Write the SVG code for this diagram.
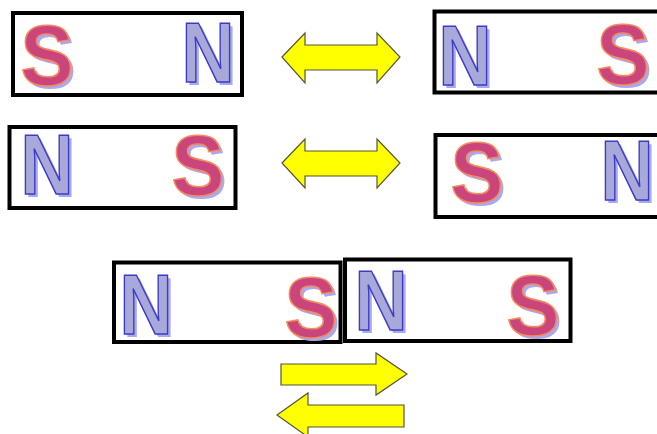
<svg xmlns="http://www.w3.org/2000/svg" width="657" height="434" viewBox="0 0 657 434">
<style>
.box{fill:#ffffff;stroke:#000000;stroke-width:4}
.ltr{font-family:"Liberation Sans",Arial,sans-serif;font-weight:bold;font-size:86px;text-anchor:middle}
.sh{fill:#a9a9ef}
.nm{fill:#a8a8da;stroke:#3b3bc4;stroke-width:1.6}
.sm{fill:#c9457b;stroke:#f58a5e;stroke-width:1.6}
.arr{fill:#ffff00;stroke:#55553a;stroke-width:1.2;stroke-linejoin:miter}
</style>
<rect width="657" height="434" fill="#ffffff"/>
<g id="magnet1">
<rect class="box" x="13" y="13" width="229" height="82"/>
<text class="ltr sh" x="50" y="88" textLength="53" lengthAdjust="spacingAndGlyphs">S</text>
<text class="ltr sm" x="47" y="85" textLength="53" lengthAdjust="spacingAndGlyphs">S</text>
<text class="ltr sh" x="211" y="85" textLength="53" lengthAdjust="spacingAndGlyphs">N</text>
<text class="ltr nm" x="208" y="82" textLength="53" lengthAdjust="spacingAndGlyphs">N</text>
</g>
<g id="magnet2">
<rect class="box" x="434.5" y="11.5" width="230" height="81"/>
<text class="ltr sh" x="468" y="88" textLength="53" lengthAdjust="spacingAndGlyphs">N</text>
<text class="ltr nm" x="465" y="85" textLength="53" lengthAdjust="spacingAndGlyphs">N</text>
<text class="ltr sh" x="626" y="87" textLength="53" lengthAdjust="spacingAndGlyphs">S</text>
<text class="ltr sm" x="623" y="84" textLength="53" lengthAdjust="spacingAndGlyphs">S</text>
</g>
<g id="magnet3">
<rect class="box" x="9.5" y="127" width="226" height="81"/>
<text class="ltr sh" x="50" y="197" textLength="53" lengthAdjust="spacingAndGlyphs">N</text>
<text class="ltr nm" x="47" y="194" textLength="53" lengthAdjust="spacingAndGlyphs">N</text>
<text class="ltr sh" x="201" y="198" textLength="53" lengthAdjust="spacingAndGlyphs">S</text>
<text class="ltr sm" x="198" y="195" textLength="53" lengthAdjust="spacingAndGlyphs">S</text>
</g>
<g id="magnet4">
<rect class="box" x="435.5" y="135" width="230" height="82"/>
<text class="ltr sh" x="480" y="205" textLength="53" lengthAdjust="spacingAndGlyphs">S</text>
<text class="ltr sm" x="477" y="202" textLength="53" lengthAdjust="spacingAndGlyphs">S</text>
<text class="ltr sh" x="630" y="203" textLength="53" lengthAdjust="spacingAndGlyphs">N</text>
<text class="ltr nm" x="627" y="200" textLength="53" lengthAdjust="spacingAndGlyphs">N</text>
</g>
<g id="magnet5">
<rect class="box" x="114" y="262.5" width="226.5" height="79.5"/>
<text class="ltr sh" x="149" y="337" textLength="53" lengthAdjust="spacingAndGlyphs">N</text>
<text class="ltr nm" x="146" y="334" textLength="53" lengthAdjust="spacingAndGlyphs">N</text>
<text class="ltr sh" x="314" y="340" textLength="53" lengthAdjust="spacingAndGlyphs">S</text>
<text class="ltr sm" x="311" y="337" textLength="53" lengthAdjust="spacingAndGlyphs">S</text>
</g>
<g id="magnet6">
<rect class="box" x="345" y="259.5" width="225.5" height="81.5"/>
<text class="ltr sh" x="384" y="333" textLength="53" lengthAdjust="spacingAndGlyphs">N</text>
<text class="ltr nm" x="381" y="330" textLength="53" lengthAdjust="spacingAndGlyphs">N</text>
<text class="ltr sh" x="536" y="338" textLength="53" lengthAdjust="spacingAndGlyphs">S</text>
<text class="ltr sm" x="533" y="335" textLength="53" lengthAdjust="spacingAndGlyphs">S</text>
</g>
<g id="connectors">
<path class="arr" d="M282,57 L305,33 L305,45 L377,45 L377,33 L400,57 L377,83 L377,70 L305,70 L305,83 Z"/>
<path class="arr" d="M282,163 L305,139 L305,151 L377,151 L377,139 L400,163 L377,188 L377,176 L305,176 L305,188 Z"/>
<path class="arr" d="M281,364 L376,364 L376,353 L407,374 L376,395 L376,385 L281,385 Z"/>
<path class="arr" d="M404,405 L308,405 L308,393 L277,415 L308,437 L308,427 L404,427 Z"/>
</g>
</svg>
